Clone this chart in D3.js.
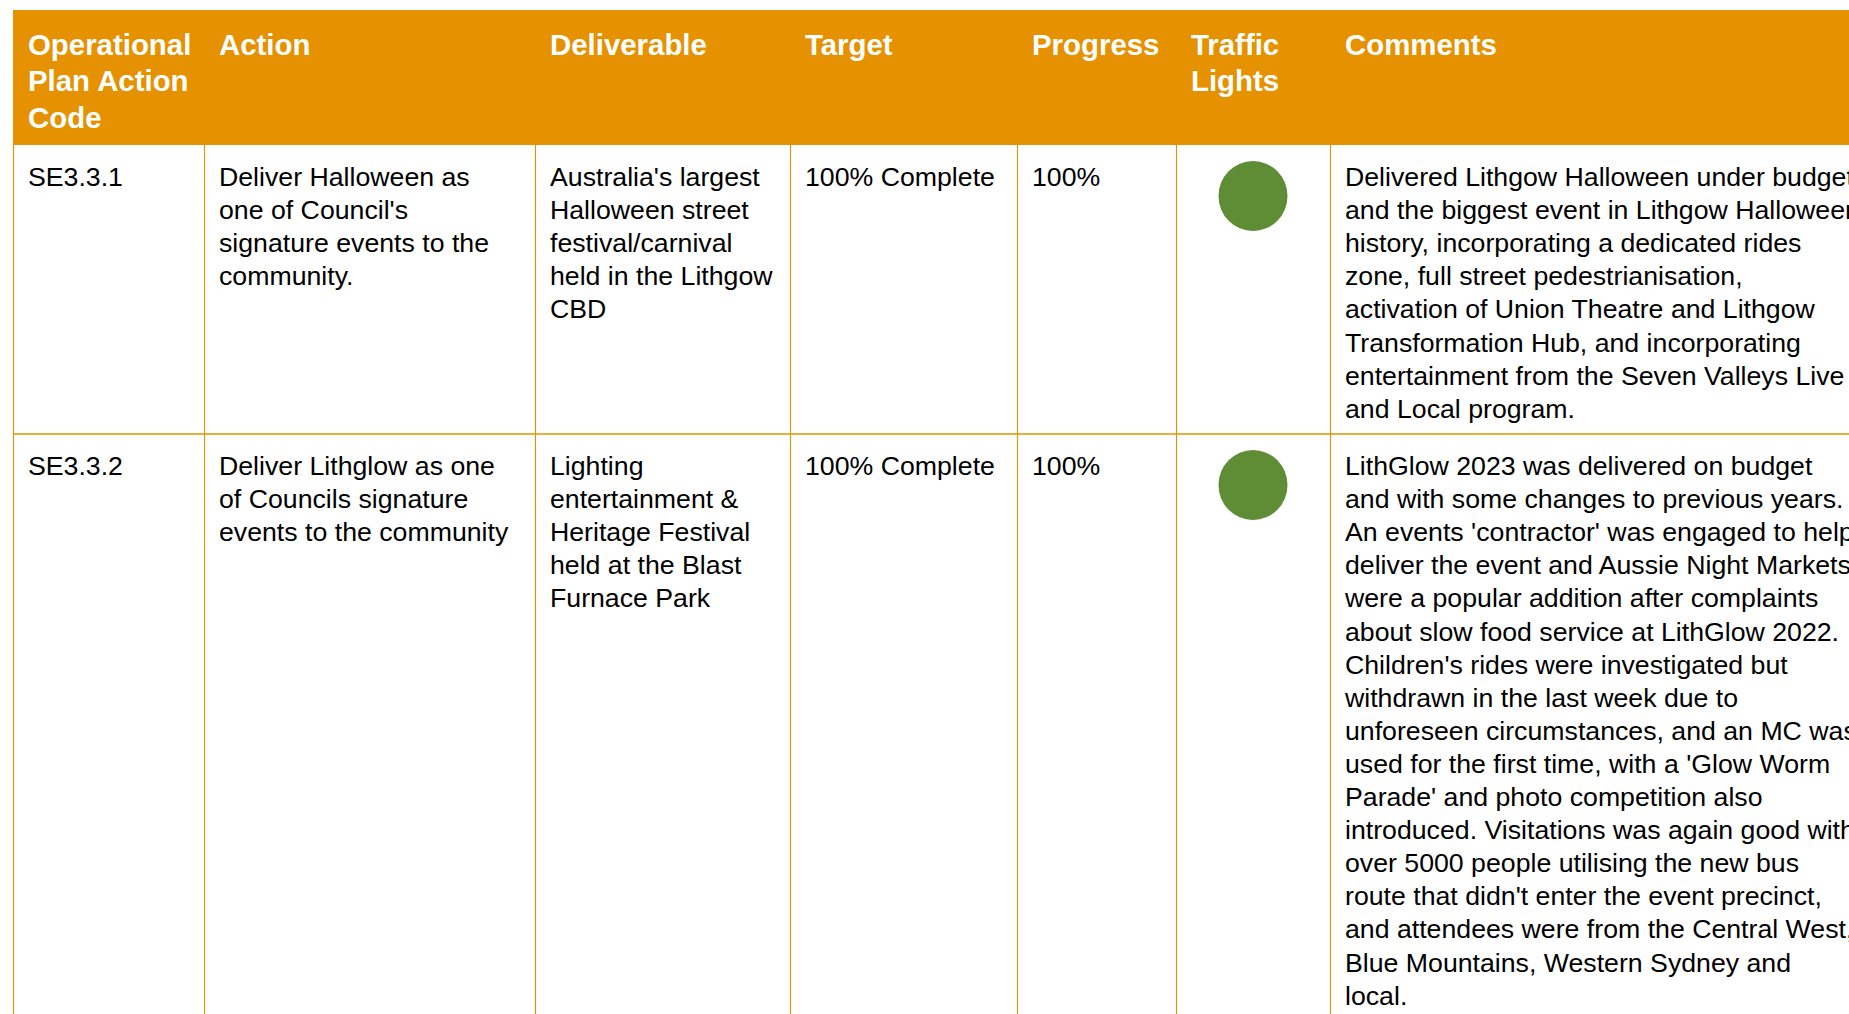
<!DOCTYPE html>
<html>
<head>
<meta charset="utf-8">
<script src="https://cdn.jsdelivr.net/npm/d3@7"></script>
<style>
  html, body { margin: 0; padding: 0; background: #ffffff; overflow: hidden; }
  svg { display: block; }
</style>
</head>
<body>
<svg id="chart" width="1849" height="1014"></svg>
<script>
// ---------------- DATA ----------------
const columns = ["code", "action", "deliverable", "target", "progress", "light", "comments"];
const headerLines = [
  ["Operational", "Plan Action", "Code"],
  ["Action"],
  ["Deliverable"],
  ["Target"],
  ["Progress"],
  ["Traffic", "Lights"],
  ["Comments"]
];
const codes = ["SE3.3.1", "SE3.3.2"];
const actions = [
  ["Deliver Halloween as", "one of Council's", "signature events to the", "community."],
  ["Deliver Lithglow as one", "of Councils signature", "events to the community"]
];
const deliverables = [
  ["Australia's largest", "Halloween street", "festival/carnival", "held in the Lithgow", "CBD"],
  ["Lighting", "entertainment &", "Heritage Festival", "held at the Blast", "Furnace Park"]
];
const targets = ["100% Complete", "100% Complete"];
const progress = ["100%", "100%"];
const lights = ["green", "green"];
const comments = [
  ["Delivered Lithgow Halloween under budget",
   "and the biggest event in Lithgow Halloween",
   "history, incorporating a dedicated rides",
   "zone, full street pedestrianisation,",
   "activation of Union Theatre and Lithgow",
   "Transformation Hub, and incorporating",
   "entertainment from the Seven Valleys Live",
   "and Local program."],
  ["LithGlow 2023 was delivered on budget",
   "and with some changes to previous years.",
   "An events 'contractor' was engaged to help",
   "deliver the event and Aussie Night Markets",
   "were a popular addition after complaints",
   "about slow food service at LithGlow 2022.",
   "Children's rides were investigated but",
   "withdrawn in the last week due to",
   "unforeseen circumstances, and an MC was",
   "used for the first time, with a 'Glow Worm",
   "Parade' and photo competition also",
   "introduced. Visitations was again good with",
   "over 5000 people utilising the new bus",
   "route that didn't enter the event precinct,",
   "and attendees were from the Central West,",
   "Blue Mountains, Western Sydney and",
   "local."]
];

// ---------------- LAYOUT ----------------
const W = 1849, H = 1014;
const ORANGE = "#E59100";
const GREEN = "#5E8D35";
const FONT = "'Liberation Sans', Arial, Helvetica, sans-serif";

const colLeft = d3.scaleOrdinal()
  .domain(columns.concat(["end"]))
  .range([13, 204, 535, 790, 1017, 1176, 1330, 1900]);
const pad = 15;

const tableTop = 10, headerBottom = 145;
const rowTops = d3.scaleOrdinal().domain([0, 1, 2]).range([145, 434, 1060]);
const headerBase = 54.5, headerPitch = 36.5;
const bodyBaseOffset = 41, bodyPitch = 33.1;

const svg = d3.select("#chart");

// Header band
svg.append("rect")
  .attr("x", colLeft("code")).attr("y", tableTop)
  .attr("width", W - colLeft("code")).attr("height", headerBottom - tableTop)
  .attr("fill", ORANGE);

// Header text
const hdr = svg.append("g").attr("font-family", FONT).attr("font-weight", "bold")
  .attr("font-size", 29.4).attr("fill", "#ffffff");
columns.forEach((c, i) => {
  const t = hdr.append("text").attr("x", colLeft(c) + pad);
  headerLines[i].forEach((ln, j) => {
    t.append("tspan").attr("x", colLeft(c) + pad).attr("y", headerBase + j * headerPitch).text(ln);
  });
});

// Grid lines
const grid = svg.append("g").attr("stroke", ORANGE).attr("fill", "none");
columns.forEach((c) => {
  grid.append("line")
    .attr("x1", colLeft(c) + 0.5).attr("x2", colLeft(c) + 0.5)
    .attr("y1", headerBottom).attr("y2", H)
    .attr("stroke-width", 1.1);
});
grid.append("line")
  .attr("x1", colLeft("code")).attr("x2", W)
  .attr("y1", rowTops(1)).attr("y2", rowTops(1))
  .attr("stroke-width", 1.5);

// Body text
const body = svg.append("g").attr("font-family", FONT).attr("font-size", 26.7).attr("fill", "#000000");
function cellLines(colKey, rowIdx, lines) {
  const x = colLeft(colKey) + pad;
  const t = body.append("text");
  lines.forEach((ln, j) => {
    t.append("tspan").attr("x", x).attr("y", rowTops(rowIdx) + bodyBaseOffset + j * bodyPitch).text(ln);
  });
}
codes.forEach((d, i) => {
  cellLines("code", i, [codes[i]]);
  cellLines("action", i, actions[i]);
  cellLines("deliverable", i, deliverables[i]);
  cellLines("target", i, [targets[i]]);
  cellLines("progress", i, [progress[i]]);
  cellLines("comments", i, comments[i]);
});

// Traffic lights
const lightColor = d3.scaleOrdinal().domain(["green", "amber", "red"]).range([GREEN, "#FFC000", "#C00000"]);
svg.append("g").selectAll("ellipse").data(lights).join("ellipse")
  .attr("cx", (colLeft("light") + colLeft("comments")) / 2)
  .attr("cy", (d, i) => rowTops(i) + 51)
  .attr("rx", 34.5).attr("ry", 35)
  .attr("fill", d => lightColor(d));
</script>
</body>
</html>
